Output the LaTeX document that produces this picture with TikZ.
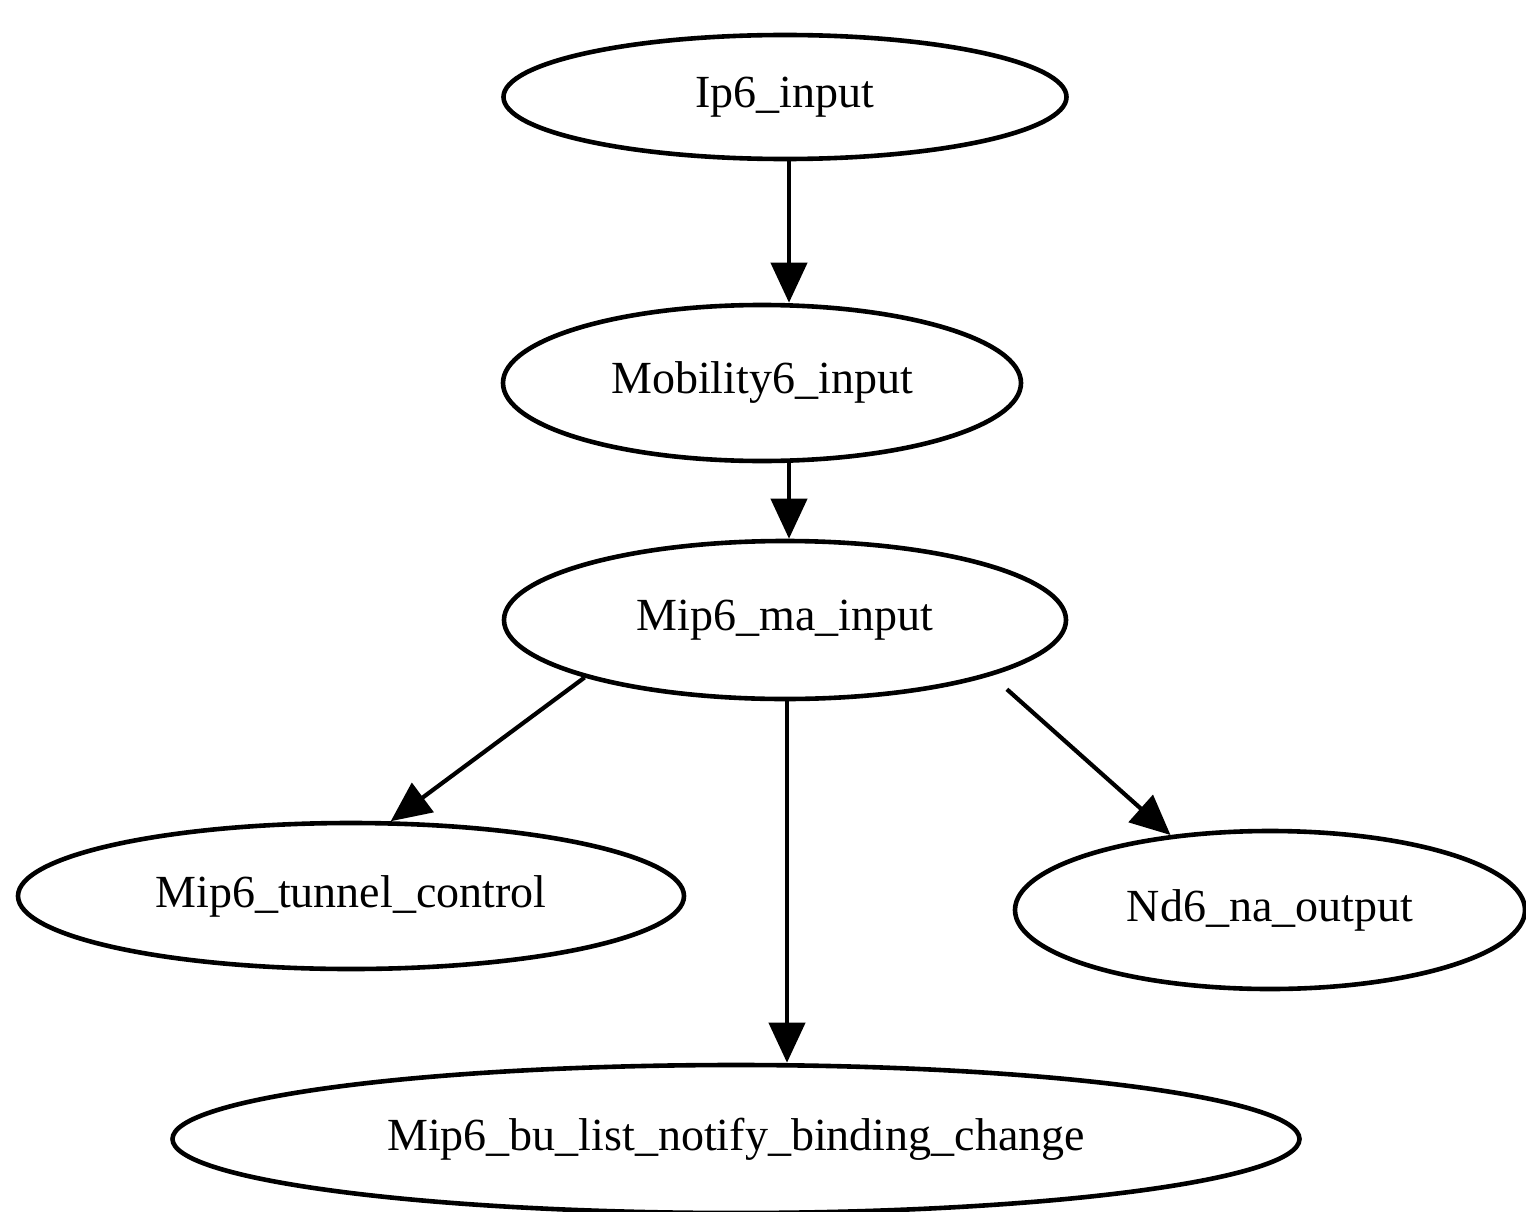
\documentclass[tikz,border=0pt]{standalone}
\usepackage{fontspec}
\setmainfont{Liberation Serif}
\usetikzlibrary{shapes.geometric,arrows.meta}
\begin{document}
\begin{tikzpicture}[x=1pt,y=-1pt,
  fn/.style={draw,ellipse,line width=4.6pt,inner sep=0pt,
    font=\fontsize{46}{50}\selectfont},
  link/.style={line width=4.2pt,-{Triangle[length=40pt,width=36pt]}}]
\useasboundingbox (0,0) rectangle (1526,1212);
\clip (0,0) rectangle (1526,1212);
\fill[white] (0,0) rectangle (1526,1212);
% call graph nodes
\node[fn,minimum width=563pt,minimum height=124pt] (ip)  at (785,97)   {Ip6\_input};
\node[fn,minimum width=518pt,minimum height=156pt] (mob) at (762,383)  {Mobility6\_input};
\node[fn,minimum width=562pt,minimum height=158pt] (ma)  at (785,620)  {Mip6\_ma\_input};
\node[fn,minimum width=666pt,minimum height=146pt] (tun) at (351,896)  {Mip6\_tunnel\_control};
\node[fn,minimum width=510pt,minimum height=158pt] (nd)  at (1270,910) {Nd6\_na\_output};
\node[fn,minimum width=1127pt,minimum height=148pt] (bu) at (736,1139) {Mip6\_bu\_list\_notify\_binding\_change};
% calls
\coordinate (ipout) at ([xshift=4pt]ip.south);
\coordinate (main) at ([xshift=4pt]ma.north);
\draw[link] (ipout) -- (ipout |- mob.north);
\draw[link] (main |- mob.south) -- (main);
\draw[link] (ma.196) -- (tun.62);
\draw[link] ([xshift=2pt]ma.south) -- ([xshift=2pt]ma.south |- bu.north);
\draw[link] ([shift={(28pt,-10pt)}]ma.343) -- (nd.143);
\end{tikzpicture}
\end{document}
